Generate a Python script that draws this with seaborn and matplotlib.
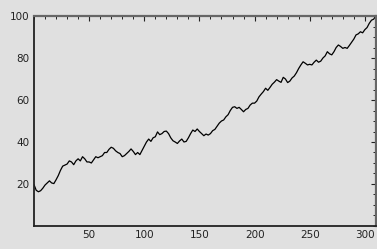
import pandas as pd
import numpy as np
from matplotlib import pyplot as plt
from matplotlib.ticker import FixedLocator, MultipleLocator
import seaborn as sns

sns.set_style('white', {'axes.facecolor': '#e0e0e0', 'figure.facecolor': '#e0e0e0'})
plt.rcParams['font.family'] = ['DejaVu Sans']

# step positions (every 2 units) and walk values
steps = list(range(0, 311, 2))
values = [
	19.7, 17.0, 16.3, 16.8, 18.0, 19.5, 20.5, 21.5, 20.5, 20.2,
	22.0, 24.0, 26.5, 28.5, 29.0, 29.5, 31.0, 30.5, 29.2, 31.0,
	32.0, 31.0, 33.0, 32.0, 30.5, 30.5, 30.0, 31.5, 33.0, 32.5,
	33.0, 33.5, 35.0, 35.0, 36.5, 37.5, 37.0, 35.8, 35.0, 34.5,
	33.0, 33.5, 34.5, 35.5, 36.7, 35.5, 34.0, 35.0, 34.0, 36.0,
	38.0, 40.0, 41.4, 40.3, 42.0, 42.5, 44.8, 43.5, 44.0, 45.0,
	45.2, 44.0, 42.0, 40.6, 40.0, 39.3, 40.5, 41.4, 40.0, 40.3,
	42.0, 44.0, 45.7, 45.0, 46.2, 45.0, 44.0, 43.0, 43.8, 43.3,
	44.0, 45.4, 46.0, 47.5, 49.0, 50.0, 50.5, 52.0, 53.0, 55.0,
	56.5, 56.8, 56.0, 56.5, 55.5, 54.4, 55.5, 56.0, 57.6, 58.5,
	58.5, 59.5, 61.5, 62.8, 64.0, 65.6, 64.6, 66.0, 67.5, 68.5,
	69.7, 69.0, 68.4, 70.8, 70.0, 68.3, 69.0, 70.5, 71.4, 73.0,
	75.0, 76.7, 78.2, 77.5, 76.7, 77.0, 76.7, 78.0, 79.0, 78.0,
	78.5, 80.0, 81.0, 83.0, 82.0, 81.5, 83.0, 85.0, 86.2, 85.5,
	84.6, 85.0, 84.6, 86.0, 87.5, 89.0, 91.0, 91.5, 92.5, 92.0,
	93.5, 94.5, 96.5, 98.0, 98.5, 100.0,
]
x_ticks = [50, 100, 150, 200, 250, 300]
y_ticks = [20, 40, 60, 80, 100]

df = pd.DataFrame({'step': steps, 'value': values})

fig = plt.figure(figsize=(3.77, 2.49), dpi=100)
ax = fig.add_axes([0.0902, 0.0924, 0.9068, 0.8433])

sns.lineplot(data=df, x='step', y='value', color='black', linewidth=0.9, ax=ax)

ax.set_xlim(0, 310)
ax.set_ylim(0, 100)
ax.set_xlabel('')
ax.set_ylabel('')

# Format axes and tickmarks
ax.xaxis.set_major_locator(FixedLocator(x_ticks))
ax.yaxis.set_major_locator(FixedLocator(y_ticks))
ax.xaxis.set_minor_locator(MultipleLocator(10))
ax.yaxis.set_minor_locator(MultipleLocator(5))
ax.tick_params(which='both', direction='in', top=True, right=True, color='#222222',
	labelsize=7.5, labelcolor='#222222', pad=3)
ax.tick_params(which='major', length=3.5, width=0.8)
ax.tick_params(which='minor', length=2, width=0.7)

for side in ['left', 'bottom']:
	ax.spines[side].set_color('#222222')
	ax.spines[side].set_linewidth(1.3)
for side in ['top', 'right']:
	ax.spines[side].set_visible(True)
	ax.spines[side].set_color('#666666')
	ax.spines[side].set_linewidth(1.6)

fig.savefig('out.png', dpi=100, facecolor=fig.get_facecolor())
